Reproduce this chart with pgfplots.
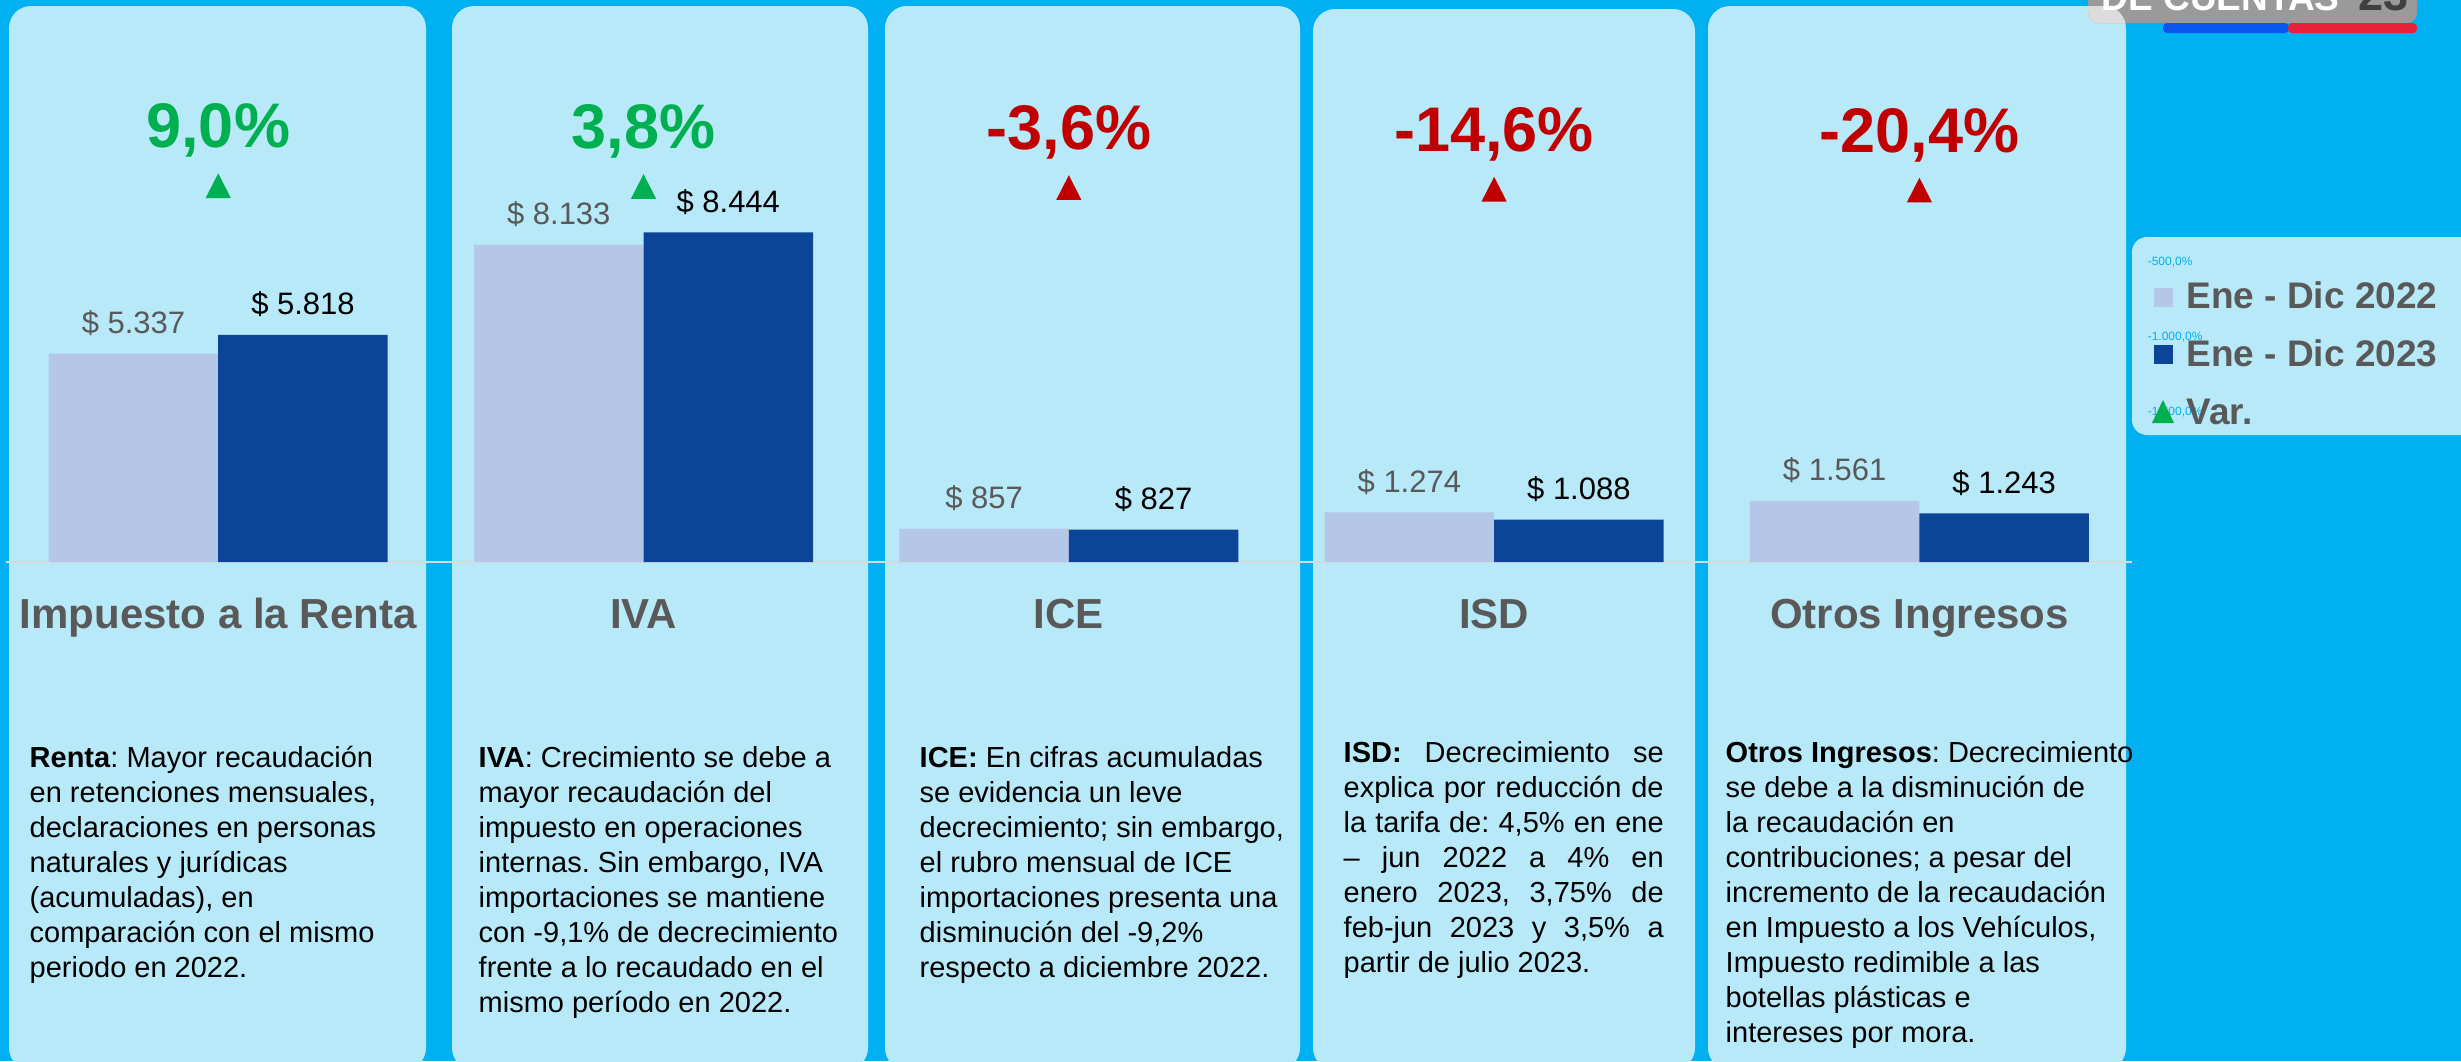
\documentclass[border=0pt]{standalone}
\usepackage{pgfplots}
\pgfplotsset{compat=1.18}
\usepackage{fontspec}
\setmainfont{Liberation Sans}
\frenchspacing
\definecolor{bgcyan}{HTML}{00B0F0}
\definecolor{panel}{HTML}{B8E9F9}
\definecolor{c2022}{HTML}{B4C7E7}
\definecolor{c2023}{HTML}{0C4497}
\definecolor{labgray}{HTML}{595959}
\definecolor{cgreen}{HTML}{00B050}
\definecolor{cred}{HTML}{C00000}
\definecolor{linegray}{HTML}{D9D9D9}
\definecolor{logogray}{HTML}{9A9A9A}
\definecolor{logolight}{HTML}{DCDCDC}
\definecolor{logodark}{HTML}{404040}
\definecolor{logoblue}{HTML}{0A55F0}
\definecolor{logored}{HTML}{E8203C}
\pgfdeclareplotmark{isotri}{%
  \pgfpathmoveto{\pgfpoint{-1.26mm}{-1.235mm}}%
  \pgfpathlineto{\pgfpoint{1.26mm}{-1.235mm}}%
  \pgfpathlineto{\pgfpoint{0mm}{1.235mm}}%
  \pgfpathclose\pgfusepathqfill}
\newcommand\bodyfont{\fontsize{8.25}{9.96}\selectfont}
\begin{document}
\begin{tikzpicture}
\useasboundingbox (0,0) rectangle (246.1mm,106.1mm);
\clip (0,0) rectangle (246.1mm,106.1mm);
\fill[bgcyan] (0,0) rectangle (246.1mm,106.1mm);
% panels
\fill[panel, rounded corners=2.2mm] (0.9mm,-0.9mm) rectangle (42.6mm,105.5mm);
\fill[panel, rounded corners=2.2mm] (45.2mm,-0.9mm) rectangle (86.8mm,105.5mm);
\fill[panel, rounded corners=2.2mm] (88.5mm,-0.9mm) rectangle (130.0mm,105.5mm);
\fill[panel, rounded corners=2.2mm] (131.3mm,-0.9mm) rectangle (169.5mm,105.2mm);
\fill[panel, rounded corners=2.2mm] (170.8mm,-0.9mm) rectangle (212.6mm,105.5mm);
% legend box
\fill[panel, rounded corners=1.5mm] (213.2mm,62.6mm) rectangle (249mm,82.4mm);
% logo
\fill[logogray, rounded corners=1mm] (208.8mm,103.8mm) rectangle (241.7mm,110mm);
\begin{scope}
\clip[rounded corners=2.2mm] (170.8mm,-0.9mm) rectangle (212.6mm,105.5mm);
\fill[logolight, rounded corners=1mm] (208.8mm,103.8mm) rectangle (241.7mm,110mm);
\end{scope}
\fill[logoblue, rounded corners=0.4mm] (216.3mm,102.8mm) rectangle (228.9mm,103.8mm);
\fill[logored, rounded corners=0.4mm] (228.8mm,102.8mm) rectangle (241.7mm,103.8mm);
\node[anchor=base west, inner sep=0pt, text=white, font=\fontsize{10.53}{12}\selectfont\bfseries] at (210.1mm,105.1mm) {DE CUENTAS};
\node[anchor=base west, inner sep=0pt, text=logodark, font=\fontsize{12.8}{14}\selectfont\bfseries] at (235.8mm,105.1mm) {23};
% body texts
\node[anchor=base west, inner sep=0pt] at (2.9mm,29.4mm) {\parbox[t]{45mm}{\raggedright\bodyfont
\textbf{Renta}: Mayor recaudación\\
en retenciones mensuales,\\
declaraciones en personas\\
naturales y jurídicas\\
(acumuladas), en\\
comparación con el mismo\\
periodo en 2022.}};
\node[anchor=base west, inner sep=0pt] at (47.8mm,29.4mm) {\parbox[t]{45mm}{\raggedright\bodyfont
\textbf{IVA}: Crecimiento se debe a\\
mayor recaudación del\\
impuesto en operaciones\\
internas. Sin embargo, IVA\\
importaciones se mantiene\\
con -9,1\% de decrecimiento\\
frente a lo recaudado en el\\
mismo período en 2022.}};
\node[anchor=base west, inner sep=0pt] at (91.9mm,29.4mm) {\parbox[t]{45mm}{\raggedright\bodyfont
\textbf{ICE:} En cifras acumuladas\\
se evidencia un leve\\
decrecimiento; sin embargo,\\
el rubro mensual de ICE\\
importaciones presenta una\\
disminución del -9,2\%\\
respecto a diciembre 2022.}};
\node[anchor=base west, inner sep=0pt] at (134.3mm,29.9mm) {\parbox[t]{45mm}{\raggedright\bodyfont
\makebox[32mm][s]{\textbf{ISD:} Decrecimiento se}\\
\makebox[32mm][s]{explica por reducción de}\\
\makebox[32mm][s]{la tarifa de: 4,5\% en ene}\\
\makebox[32mm][s]{– jun 2022 a 4\% en}\\
\makebox[32mm][s]{enero 2023, 3,75\% de}\\
\makebox[32mm][s]{feb-jun 2023 y 3,5\% a}\\
partir de julio 2023.}};
\node[anchor=base west, inner sep=0pt] at (172.5mm,29.9mm) {\parbox[t]{45mm}{\raggedright\bodyfont
\textbf{Otros Ingresos}: Decrecimiento\\
se debe a la disminución de\\
la recaudación en\\
contribuciones; a pesar del\\
incremento de la recaudación\\
en Impuesto a los Vehículos,\\
Impuesto redimible a las\\
botellas plásticas e\\
intereses por mora.}};
% bars
\begin{axis}[
  at={(0.56mm,49.9mm)}, anchor=south west, scale only axis,
  width=212.65mm, height=39.03mm,
  xmin=-0.5, xmax=4.5, ymin=0, ymax=10000,
  ybar=0pt, bar width=16.95mm,
  axis x line=bottom, axis y line=none,
  x axis line style={-, draw=linegray, line width=0.25mm},
  xtick={0,1,2,3,4},
  xticklabels={Impuesto a la Renta, IVA, ICE, ISD, Otros Ingresos},
  xtick style={draw=none}, major tick length=0pt,
  xticklabel style={anchor=base, yshift=-6.6mm, inner sep=0pt,
    font=\fontsize{11.95}{14}\selectfont\bfseries, text=labgray},
  clip=false,
  nodes near coords, point meta=explicit symbolic,
  every node near coord/.append style={anchor=south, inner sep=0pt, text depth=0pt,
    yshift=1.95mm, font=\fontsize{8.82}{10}\selectfont},
]
\addplot[fill=c2022, draw=none, every node near coord/.append style={text=labgray}]
  coordinates {(0,5337)[\$ 5.337] (1,8133)[\$ 8.133] (2,857)[\$ 857] (3,1274)[\$ 1.274] (4,1561)[\$ 1.561]};
\addplot[fill=c2023, draw=none, every node near coord/.append style={text=black}]
  coordinates {(0,5818)[\$ 5.818] (1,8444)[\$ 8.444] (2,827)[\$ 827] (3,1088)[\$ 1.088] (4,1243)[\$ 1.243]};
\end{axis}
% variation
\begin{axis}[
  at={(0.56mm,49.9mm)}, anchor=south west, scale only axis,
  width=212.65mm, height=39.03mm,
  xmin=-0.5, xmax=4.5, ymin=-2500, ymax=102,
  axis line style={draw=none}, xtick=\empty,
  ytick={-2500,-2000,-1500,-1000,-500,0},
  yticklabels={{-2.500,0\%},{-2.000,0\%},{-1.500,0\%},{-1.000,0\%},{-500,0\%},{0,0\%}},
  yticklabel pos=right, major tick length=0pt,
  yticklabel style={anchor=west, inner sep=0pt, xshift=1.5mm, text=bgcyan,
    font=\fontsize{3.41}{4}\selectfont},
  clip=false,
  point meta=explicit symbolic,
  nodes near coords, nodes near coords align={anchor=south},
  every node near coord/.append style={anchor=south, inner sep=0pt, text depth=0pt,
    yshift=3.7mm, font=\fontsize{17.93}{20}\selectfont\bfseries},
  legend cell align=left,
  legend style={at={(1.00936,0.7251)}, anchor=north west, draw=none, fill=none,
    inner sep=0pt, outer sep=0pt, row sep=2.75mm,
    font=\fontsize{10.53}{12}\selectfont\bfseries, text=labgray,
    nodes={inner sep=0pt, text height=3mm, text depth=0pt}},
]
\addlegendimage{legend image code/.code={\fill[c2022, draw=none] (0mm,-1.3mm) rectangle (1.9mm,0.6mm); \node[inner sep=0pt, draw=none, fill=none] at (2.9mm,0mm) {};}}
\addlegendimage{legend image code/.code={\fill[c2023, draw=none] (0mm,-1.3mm) rectangle (1.9mm,0.6mm); \node[inner sep=0pt, draw=none, fill=none] at (2.9mm,0mm) {};}}
\addlegendimage{legend image code/.code={\fill[cgreen, draw=none] (-0.2mm,-1.4mm) -- (2.0mm,-1.4mm) -- (0.9mm,0.9mm) -- cycle; \node[inner sep=0pt, draw=none, fill=none] at (2.9mm,0mm) {};}}
\addplot[only marks, mark=isotri, color=cgreen, forget plot]
  coordinates {(0,9.0)[9,0\%] (1,3.8)[3,8\%]};
\addplot[only marks, mark=isotri, color=cred, forget plot]
  coordinates {(2,-3.6)[-3,6\%] (3,-14.6)[-14,6\%] (4,-20.4)[-20,4\%]};
\legend{Ene - Dic 2022, Ene - Dic 2023, Var.}
\end{axis}
\end{tikzpicture}
\end{document}
